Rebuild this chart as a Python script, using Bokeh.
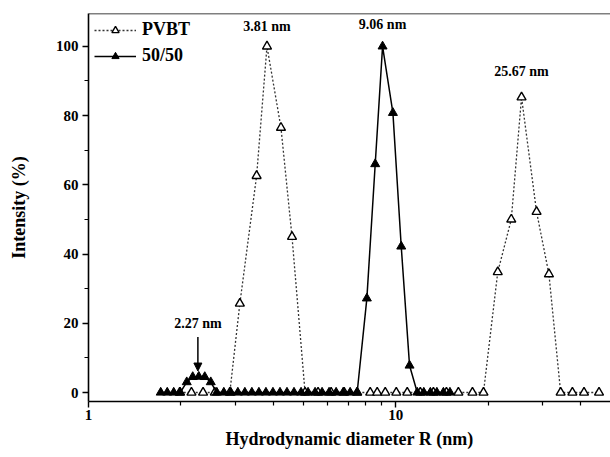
from bokeh.plotting import figure
from bokeh.models import (Range1d, FixedTicker, Span, Label, Arrow, NormalHead,
                          Legend, LegendItem, ColumnDataSource)
from bokeh.embed import file_html
from bokeh.resources import INLINE

# ---- data ----
pvbt_x = [1.981, 2.163, 2.360, 2.577, 2.884, 3.109, 3.525, 3.81, 4.231, 4.596,
          5.068, 5.587, 6.161, 6.792, 7.489, 8.257, 8.703, 9.243, 10.04, 10.90,
          12.02, 13.26, 14.62, 15.99, 17.77, 19.30, 21.48, 23.77, 25.67, 28.73,
          31.52, 34.41, 37.58, 41.00, 45.88]
pvbt_y = [0, 0, 0, 0, 0, 25.7, 62.6, 100, 76.5, 45,
          0, 0, 0, 0, 0, 0, 0, 0, 0, 0,
          0, 0, 0, 0, 0, 0, 34.8, 50.0, 85.3, 52.2,
          34.2, 0, 0, 0, 0]

mix_x = [1.718, 1.804, 1.894, 1.989, 2.088, 2.184, 2.285, 2.390, 2.500, 2.616,
         2.757, 2.906, 3.063, 3.228, 3.402, 3.586, 3.780, 3.984, 4.200, 4.426,
         4.665, 4.918, 5.183, 5.463, 5.758, 6.068, 6.396, 6.742, 7.105, 7.489,
         8.054, 8.574, 9.06, 9.79, 10.42, 11.09, 11.75, 12.34, 12.96, 13.61,
         14.29, 15.01]
mix_y = [0, 0, 0, 0, 3.0, 4.5, 4.6, 4.5, 3.0, 0,
         0, 0, 0, 0, 0, 0, 0, 0, 0, 0,
         0, 0, 0, 0, 0, 0, 0, 0, 0, 0,
         27.2, 66.0, 100, 80.8, 42.2, 7.8, 0, 0, 0, 0,
         0, 0]

x_ticks = [1, 10]
x_tick_labels = ["1", "10"]
x_minor = [2, 3, 4, 5, 6, 7, 8, 9, 20, 30, 40]
y_ticks = [0, 20, 40, 60, 80, 100]
y_minor = [10, 30, 50, 70, 90]

peak_labels = ["3.81 nm", "9.06 nm", "25.67 nm"]
peak_x = [3.81, 9.06, 25.67]
peak_y = [105.8, 106.3, 92.6]

FONT = "Liberation Serif"
Y_TOP = 109.5

p = figure(width=610, height=457, x_axis_type="log",
           x_range=Range1d(1, 50), y_range=Range1d(-2.6, Y_TOP),
           output_backend="svg", toolbar_location=None,
           min_border_left=88, min_border_right=0, min_border_top=13,
           min_border_bottom=56)
p.outline_line_color = None
p.xgrid.visible = False
p.ygrid.visible = False
p.background_fill_color = "white"

for ax in (p.xaxis[0], p.yaxis[0]):
    ax.axis_line_width = 1.6
    ax.axis_line_color = "black"
    ax.major_tick_line_width = 1.4
    ax.minor_tick_line_width = 1.2
    ax.major_tick_in = 0
    ax.major_tick_out = 6
    ax.minor_tick_in = 0
    ax.minor_tick_out = 4
    ax.major_label_text_font = FONT
    ax.major_label_text_font_style = "bold"
    ax.major_label_text_font_size = "15px"
    ax.major_label_text_color = "black"
    ax.axis_label_text_font = FONT
    ax.axis_label_text_font_style = "bold"
    ax.axis_label_text_font_size = "18px"
    ax.axis_label_text_color = "black"

p.xaxis.ticker = FixedTicker(ticks=x_ticks, minor_ticks=x_minor)
p.xaxis.major_label_overrides = {t: s for t, s in zip(x_ticks, x_tick_labels)}
p.yaxis.ticker = FixedTicker(ticks=y_ticks, minor_ticks=y_minor)
p.xaxis.major_label_standoff = 2
p.yaxis.major_label_standoff = 4
p.yaxis.axis_label = "Intensity (%)"
p.yaxis.axis_label_standoff = 24
p.xaxis.axis_label = "Hydrodynamic diameter R (nm)"
p.xaxis.axis_label_standoff = 6

# top border
p.add_layout(Span(location=Y_TOP, dimension="width", line_color="black", line_width=1.6))

src_p = ColumnDataSource(dict(x=pvbt_x, y=pvbt_y))
src_m = ColumnDataSource(dict(x=mix_x, y=mix_y))

lp = p.line("x", "y", source=src_p, line_color="#333333", line_width=1.3, line_dash="2 2")
sp = p.scatter("x", "y", source=src_p, marker="triangle", size=9,
               fill_color="white", line_color="black", line_width=1.4)
lm = p.line("x", "y", source=src_m, line_color="black", line_width=1.5)
sm = p.scatter("x", "y", source=src_m, marker="triangle", size=9,
               fill_color="black", line_color="black", line_width=1.0)

legend = Legend(items=[LegendItem(label="PVBT", renderers=[lp, sp]),
                       LegendItem(label="50/50", renderers=[lm, sm])],
                location="top_left")
legend.border_line_color = None
legend.background_fill_alpha = 0
legend.margin = 6
legend.padding = 3
legend.spacing = 5
legend.label_height = 18
legend.glyph_height = 18
legend.glyph_width = 42
legend.label_standoff = 6
legend.label_text_font = FONT
legend.label_text_font_style = "bold"
legend.label_text_font_size = "18px"
legend.label_text_color = "black"
p.add_layout(legend)

for t, x, y in zip(peak_labels, peak_x, peak_y):
    p.add_layout(Label(x=x, y=y, text=t, text_align="center", text_baseline="middle",
                       text_font=FONT, text_font_style="bold", text_font_size="14px",
                       text_color="black"))

p.add_layout(Label(x=2.27, y=19.8, text="2.27 nm", text_align="center", text_baseline="middle",
                   text_font=FONT, text_font_style="bold", text_font_size="14px",
                   text_color="black"))
p.add_layout(Arrow(end=NormalHead(size=8, fill_color="black", line_color="black"),
                   x_start=2.27, y_start=16, x_end=2.27, y_end=6.2,
                   line_width=1.5, line_color="black"))

open("out.html", "w").write(file_html(p, INLINE))
